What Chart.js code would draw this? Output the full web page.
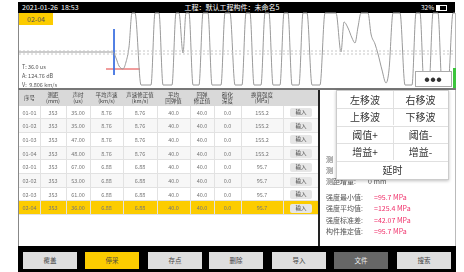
<!DOCTYPE html>
<html>
<head>
<meta charset="utf-8">
<script src="https://cdn.jsdelivr.net/npm/chart.js@4.4.1/dist/chart.umd.min.js"></script>
<style>
  body { margin: 0; width: 464px; height: 272px; background: #fff; position: relative; overflow: hidden;
         font-family: "Noto Sans CJK SC", "Noto Sans", sans-serif; }
  .abs { position: absolute; }
  .cell { position: absolute; text-align: center; color: #777; font-size: 5.5px; line-height: 6px; }
  .btn { position: absolute; top: 252px; width: 54px; height: 17px; line-height: 17px; text-align: center;
         font-size: 6.5px; color: #444; background: #dedede; }
  .menu { position: absolute; text-align: center; font-size: 10px; color: #333; line-height: 17px; }
  .lbl { position: absolute; font-size: 7px; color: #555; }
  .val { position: absolute; font-size: 7px; color: #f0306a; }
</style>
</head>
<body>
<div class="abs" style="left:18px;top:2px;width:437px;height:11px;background:#000"></div>
<div class="abs" style="left:22px;top:2px;font-size:7px;line-height:11px;color:#fff">2021-01-26&nbsp;&nbsp;18:53</div>
<div class="abs" style="left:132px;top:2px;width:200px;text-align:center;font-size:7px;line-height:11px;color:#fff">工程：默认工程构件：未命名5</div>
<div class="abs" style="left:421px;top:2px;font-size:6.5px;line-height:11px;color:#fff">32%</div>
<div class="abs" style="left:436px;top:5px;width:9px;height:4px;border:1px solid #fff"></div>
<div class="abs" style="left:437px;top:6px;width:3px;height:4px;background:#fff"></div>

<div class="abs" style="left:18px;top:13px;width:1px;height:233px;background:#888"></div>
<div class="abs" style="left:455px;top:13px;width:1px;height:233px;background:#bbb"></div>

<canvas id="wave" class="abs" style="left:19px;top:12px" width="436" height="76"></canvas>

<div class="abs" style="left:19px;top:13px;width:34px;height:12px;background:#fccc00;color:#555;font-size:7px;line-height:12px;text-align:center">02-04</div>
<div class="abs" style="left:22px;top:63px;font-size:5.5px;color:#555">T:&nbsp;36.0 us</div>
<div class="abs" style="left:22px;top:72px;font-size:5.5px;color:#555">A:&nbsp;124.76 dB</div>
<div class="abs" style="left:22px;top:81px;font-size:5.5px;color:#555">V:&nbsp;&nbsp;9.806 km/s</div>
<div class="abs" style="left:415px;top:71px;width:35px;height:14px;background:#fff;border:1px solid #aaa;text-align:center;font-size:5px;line-height:14px;color:#333;letter-spacing:1px">●●●</div>
<div class="abs" style="left:453px;top:68px;width:3px;height:21px;background:#3cc43c"></div>

<div class="abs" style="left:18px;top:88px;width:438px;height:2px;background:#777"></div>
<div id="table"></div>
<div class="abs" style="left:318px;top:90px;width:2px;height:156px;background:#222"></div>

<div class="lbl" style="left:326px;top:154px">测</div>
<div class="lbl" style="left:326px;top:165px">测</div>
<div class="lbl" style="left:326px;top:176px">测距增量:</div>
<div class="lbl" style="left:368px;top:176px">0 mm</div>
<div id="stats"></div>

<div class="abs" style="left:336px;top:90px;width:111px;height:88px;background:#fff;border:1px solid #ccc;box-shadow:0 1px 3px rgba(0,0,0,0.25)"></div>
<div id="menu"></div>

<div class="abs" style="left:18px;top:246px;width:438px;height:26px;background:#000"></div>
<div id="toolbar"></div>

<script>
// waveform samples (sample index, amplitude)
const waveT = [0, 94, 97, 100, 104, 107, 110, 113, 116, 122, 132, 136, 140, 144, 153, 157, 160, 164, 167, 170,
  174, 180, 184, 189, 193, 202, 206, 211, 216, 223, 227, 231, 235, 242, 246, 250, 254, 261, 265, 269,
  273, 280, 284, 288, 293, 301, 306, 317, 322, 325, 329, 333, 336, 339, 342, 349, 352, 356, 359, 363,
  367, 370, 374, 381, 386, 393, 397, 401, 405, 410, 414, 419, 423, 429, 434, 436];
const waveA = [0, 0, -6, -14, -17, -10, 5, 39, 39, -33, -33, 39, 39, -33, -33, 39, 39, -1, 39, 39,
  -33, -33, 39, 39, -33, -33, 39, 39, -33, -33, 39, 39, -33, -33, 39, 39, -33, -33, 39, 39,
  -33, -33, 39, 39, -33, -33, 39, 39, 0, 30, 24, 14, 9, 25, 39, 39, 18, 8, -2, -18,
  -31, -18, 39, 39, -33, -33, 39, 39, -33, -33, 39, 39, -33, -33, 39, 39];
const thresholdHi = 1;
const thresholdLo = -2;
const cursorT = 95;
const cursorA = [23, -23];
const peakA = -17;
const peakT = [87, 121];

// table
const headTop = ["序号", "测距", "声时", "平均声速", "声速修正值", "平均", "回弹", "碳化", "换算强度", ""];
const headBottom = ["", "(mm)", "(us)", "(km/s)", "(km/s)", "回弹值", "修正值", "深度", "(MPa)", ""];
const rowIds = ["01-01", "01-02", "01-03", "01-04", "02-01", "02-02", "02-03", "02-04"];
const distance = ["353", "353", "353", "353", "353", "353", "353", "353"];
const soundTime = ["35.00", "35.00", "47.00", "48.00", "67.00", "53.00", "61.00", "36.00"];
const avgSpeed = ["8.76", "8.76", "8.76", "8.76", "6.88", "6.88", "6.88", "6.88"];
const speedCorr = ["8.76", "8.76", "8.76", "8.76", "6.88", "6.88", "6.88", "6.88"];
const avgRebound = ["40.0", "40.0", "40.0", "40.0", "40.0", "40.0", "40.0", "40.0"];
const reboundCorr = ["40.0", "40.0", "40.0", "40.0", "40.0", "40.0", "40.0", "40.0"];
const carbonDepth = ["0.0", "0.0", "0.0", "0.0", "0.0", "0.0", "0.0", "0.0"];
const strength = ["155.2", "155.2", "155.2", "155.2", "95.7", "95.7", "95.7", "95.7"];
const selectedRow = "02-04";

const statLabels = ["强度最小值:", "强度平均值:", "强度标准差:", "构件推定值:"];
const statValues = ["=95.7 MPa", "=125.4 MPa", "=42.07 MPa", "=95.7 MPa"];

const menuItems = [["左移波", "右移波"], ["上移波", "下移波"], ["阈值+", "阈值-"], ["增益+", "增益-"], ["延时"]];
const toolLabels = ["覆盖", "停采", "存点", "删除", "导入", "文件", "搜索"];

function buildTable() {
  const host = document.getElementById('table');
  const edges = [19, 40, 66, 90, 123, 157, 190, 214, 241, 283, 318];
  const top = 90, headH = 15.5, rowH = 13.7;
  let html = `<div class="abs" style="left:19px;top:${top}px;width:299px;height:${headH}px;background:#d9d9d9"></div>`;
  for (let c = 0; c < headTop.length; c++) {
    const w = edges[c + 1] - edges[c];
    html += `<div class="cell" style="left:${edges[c]}px;top:${top + (headBottom[c] ? 2 : 5)}px;width:${w}px;color:#444">${headTop[c]}<br>${headBottom[c]}</div>`;
  }
  const cols = [rowIds, distance, soundTime, avgSpeed, speedCorr, avgRebound, reboundCorr, carbonDepth, strength];
  rowIds.forEach((id, r) => {
    const y = top + headH + r * rowH;
    const bg = id === selectedRow ? '#fccc00' : (r % 2 ? '#f7f7f7' : '#fff');
    html += `<div class="abs" style="left:19px;top:${y}px;width:299px;height:${rowH}px;background:${bg};border-bottom:1px solid #e2e2e2;box-sizing:border-box"></div>`;
    cols.forEach((col, c) => {
      const w = edges[c + 1] - edges[c];
      html += `<div class="cell" style="left:${edges[c]}px;top:${y + 4}px;width:${w}px">${col[r]}</div>`;
    });
    html += `<div class="abs" style="left:290px;top:${y + 2.5}px;width:22px;height:9px;background:#e6e6e6;border-radius:2px;font-size:5.5px;line-height:9px;text-align:center;color:#444">输入</div>`;
  });
  for (let c = 1; c < edges.length - 1; c++) {
    html += `<div class="abs" style="left:${edges[c]}px;top:${top + headH}px;width:1px;height:${rowH * rowIds.length}px;background:#e2e2e2"></div>`;
  }
  host.innerHTML = html;
}

function buildSide() {
  let html = '';
  statLabels.forEach((l, i) => {
    const y = 192 + i * 11.3;
    html += `<div class="lbl" style="left:326px;top:${y}px">${l}</div><div class="val" style="left:374px;top:${y}px">${statValues[i]}</div>`;
  });
  document.getElementById('stats').innerHTML = html;

  let m = '';
  menuItems.forEach((row, r) => {
    const y = 91 + r * 17.4;
    if (r > 0) m += `<div class="abs" style="left:337px;top:${y}px;width:111px;height:1px;background:#e0e0e0"></div>`;
    if (row.length === 2) {
      m += `<div class="menu" style="left:337px;top:${y}px;width:56px">${row[0]}</div>`;
      m += `<div class="menu" style="left:393px;top:${y}px;width:55px">${row[1]}</div>`;
      m += `<div class="abs" style="left:393px;top:${y}px;width:1px;height:17px;background:#e0e0e0"></div>`;
    } else {
      m += `<div class="menu" style="left:337px;top:${y}px;width:111px">${row[0]}</div>`;
    }
  });
  document.getElementById('menu').innerHTML = m;

  const xs = [23, 85, 148, 209, 272, 334, 397];
  let t = '';
  toolLabels.forEach((l, i) => {
    let style = `left:${xs[i]}px;`;
    if (l === '停采') style += 'background:#fccc00;';
    if (l === '文件') style += 'background:#666;color:#eee;';
    t += `<div class="btn" style="${style}">${l}</div>`;
  });
  document.getElementById('toolbar').innerHTML = t;
}

function renderWave() {
  const ctx = document.getElementById('wave');
  const wave = waveT.map((t, i) => ({ x: t, y: waveA[i] }));
  new Chart(ctx, {
    type: 'line',
    data: {
      datasets: [
        { data: [{ x: 0, y: thresholdHi }, { x: 436, y: thresholdHi }], borderColor: '#c8c8c8', borderWidth: 1, borderDash: [2, 2], pointRadius: 0 },
        { data: [{ x: 0, y: thresholdLo }, { x: 436, y: thresholdLo }], borderColor: '#c8c8c8', borderWidth: 1, borderDash: [2, 2], pointRadius: 0 },
        { data: wave, borderColor: '#9a9a9a', borderWidth: 1, pointRadius: 0, cubicInterpolationMode: 'monotone', clip: false },
        { data: [{ x: cursorT, y: cursorA[0] }, { x: cursorT, y: cursorA[1] }], borderColor: '#3a6fe0', borderWidth: 1, pointRadius: 0 },
        { data: [{ x: peakT[0], y: peakA }, { x: peakT[1], y: peakA }], borderColor: '#e23a3a', borderWidth: 1, pointRadius: 0 }
      ]
    },
    options: {
      responsive: false,
      animation: false,
      devicePixelRatio: 1,
      layout: { padding: { top: 1, bottom: 1, left: 0, right: 0 } },
      plugins: { legend: { display: false }, tooltip: { enabled: false } },
      scales: {
        x: { type: 'linear', min: 0, max: 436, display: false },
        y: { min: -35, max: 39, display: false }
      }
    }
  });
}

document.addEventListener("DOMContentLoaded", () => {
  buildTable();
  buildSide();
  renderWave();
});
</script>
</body>
</html>
